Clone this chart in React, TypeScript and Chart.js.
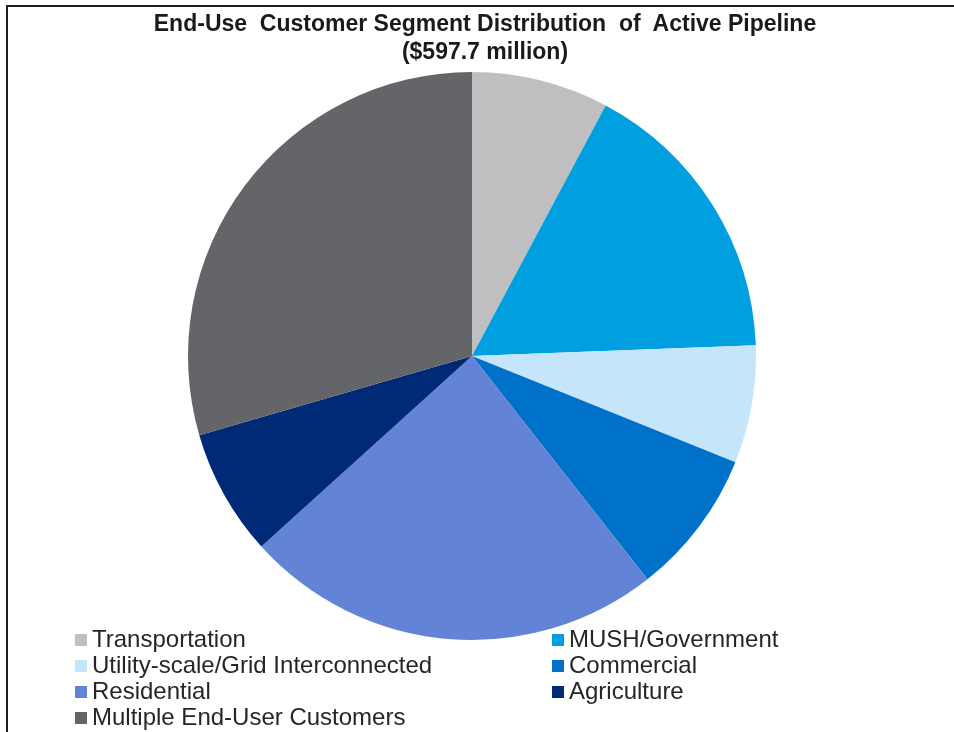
import React, { useEffect, useRef } from "react";
import { Chart, registerables } from "chart.js";

Chart.register(...registerables);

const titleLines = [
  "End-Use  Customer Segment Distribution  of  Active Pipeline",
  "($597.7 million)",
];

const categories = [
  "Transportation",
  "MUSH/Government",
  "Utility-scale/Grid Interconnected",
  "Commercial",
  "Residential",
  "Agriculture",
  "Multiple End-User Customers",
];

// share of active pipeline, percent
const shares = [7.8, 16.6, 6.7, 8.3, 23.9, 7.2, 29.5];

const colors = [
  "#BFBFC1",
  "#009FE0",
  "#C5E5FB",
  "#0071C9",
  "#6384D6",
  "#002A75",
  "#636569",
];

// legend layout: left column / right column
const legendLeft = [0, 2, 4, 6];
const legendRight = [1, 3, 5];

export default function App() {
  const canvasRef = useRef<HTMLCanvasElement | null>(null);

  useEffect(() => {
    if (!canvasRef.current) return;
    const chart = new Chart(canvasRef.current, {
      type: "pie",
      data: {
        labels: categories,
        datasets: [
          {
            data: shares,
            backgroundColor: colors,
            borderWidth: 0,
          },
        ],
      },
      options: {
        responsive: false,
        animation: false,
        layout: { padding: { left: 188, right: 198, top: 72, bottom: 92 } },
        plugins: {
          legend: { display: false },
          tooltip: { enabled: false },
          title: { display: false },
        },
      },
    });
    return () => chart.destroy();
  }, []);

  const legendItem = (i: number) => (
    <div
      key={i}
      style={{ height: 26, display: "flex", alignItems: "center", whiteSpace: "nowrap" }}
    >
      <span
        style={{
          display: "inline-block",
          width: 12,
          height: 12,
          background: colors[i],
          marginRight: 5,
          marginTop: 2,
        }}
      />
      <span>{categories[i]}</span>
    </div>
  );

  const legendStyle = {
    position: "absolute" as const,
    top: 626,
    fontFamily: "'Liberation Sans', Arial, sans-serif",
    fontSize: 24,
    lineHeight: "26px",
    color: "#262626",
  };

  return (
    <div
      style={{
        position: "absolute",
        left: 0,
        top: 0,
        width: 954,
        height: 732,
        overflow: "hidden",
        background: "#fff",
      }}
    >
      <canvas ref={canvasRef} width={954} height={732} style={{ position: "absolute", left: 0, top: 0 }} />
      <div
        style={{
          position: "absolute",
          left: 0,
          top: 9,
          width: 970,
          textAlign: "center",
          fontFamily: "'Liberation Sans', Arial, sans-serif",
          fontSize: 23,
          fontWeight: "bold",
          lineHeight: "28px",
          color: "#1a1a1a",
          whiteSpace: "pre",
        }}
      >
        {titleLines.map((t, i) => (
          <div key={i}>{t}</div>
        ))}
      </div>
      <div style={{ position: "absolute", left: 6, top: 5, width: 948, height: 2, background: "#1f1f1f" }} />
      <div style={{ position: "absolute", left: 6, top: 5, width: 2, height: 727, background: "#1f1f1f" }} />
      <div style={{ ...legendStyle, left: 75 }}>{legendLeft.map(legendItem)}</div>
      <div style={{ ...legendStyle, left: 552 }}>{legendRight.map(legendItem)}</div>
    </div>
  );
}
